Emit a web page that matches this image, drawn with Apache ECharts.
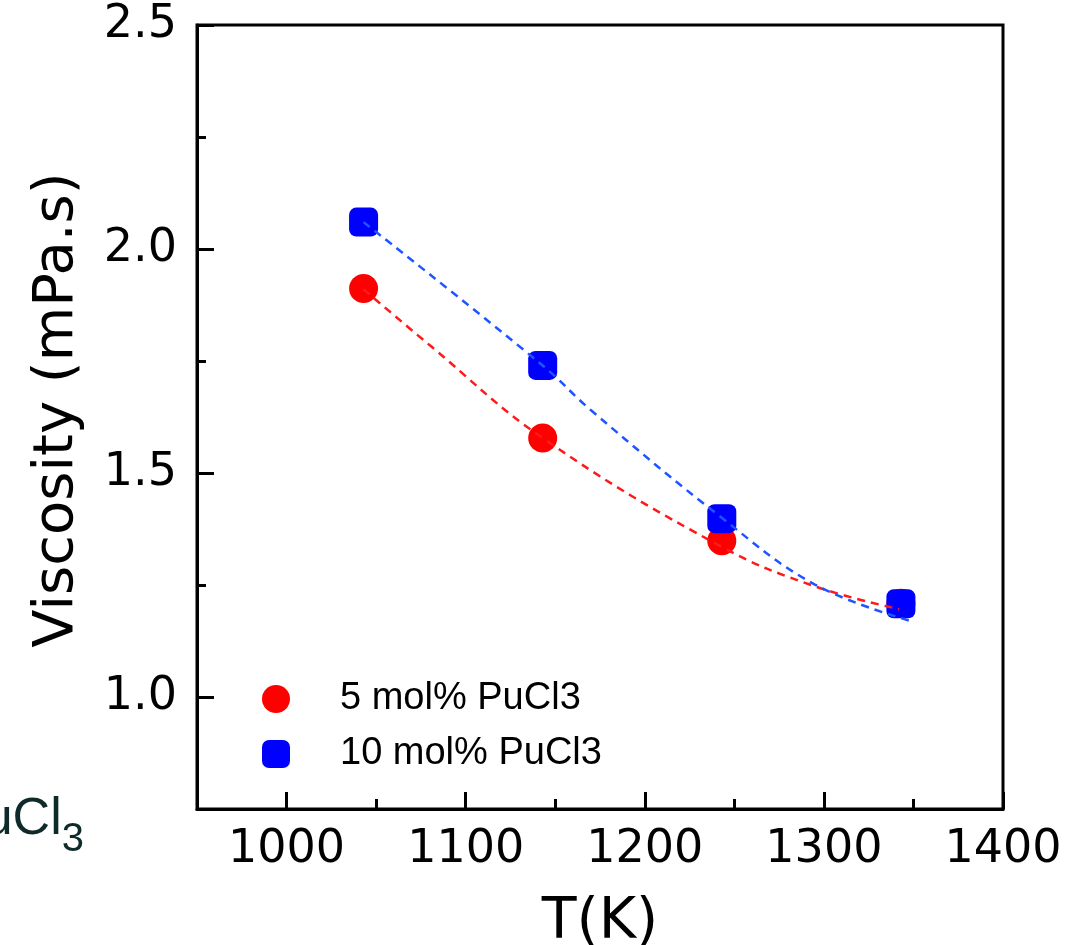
<!DOCTYPE html>
<html>
<head>
<meta charset="utf-8">
<script src="https://cdn.jsdelivr.net/npm/echarts@6/dist/echarts.min.js"></script>
<style>html,body{margin:0;padding:0;background:#fff;}#c{width:1068px;height:945px;}</style>
</head>
<body>
<div id="c"></div>
<script>
// Data
var temps = [1043, 1143, 1243, 1343];
var visc5 = [1.912, 1.578, 1.349, 1.209];
var visc10 = [2.060, 1.740, 1.398, 1.208];
// dashed fit curves
var fit5T = [1043, 1080, 1143, 1243, 1295, 1342];
var fit5V = [1.910, 1.785, 1.578, 1.335, 1.247, 1.196];
var fit10T = [1043, 1143, 1170, 1243, 1295, 1349];
var fit10V = [2.060, 1.740, 1.640, 1.400, 1.251, 1.169];
var xMajor = [1000, 1100, 1200, 1300, 1400];
var xMinor = [1050, 1150, 1250, 1350];
var yMajor = [1.0, 1.5, 2.0, 2.5];
var yMinor = [1.25, 1.75, 2.25];
var seriesNames = ['5 mol% PuCl3', '10 mol% PuCl3'];

function pairs(a, b) { return a.map(function (v, i) { return [v, b[i]]; }); }

var chart = echarts.init(document.getElementById('c'));
var axisFont = { fontFamily: 'DejaVu Sans', fontSize: 46, color: '#000' };
chart.setOption({
  animation: false,
  backgroundColor: '#fff',
  grid: { left: 197, right: 65, top: 25, bottom: 136, outerBoundsMode: 'none', containLabel: false, show: true, borderColor: '#000', borderWidth: 3, backgroundColor: 'transparent' },
  legend: {
    data: seriesNames,
    orient: 'vertical',
    left: 257, top: 675,
    itemWidth: 28, itemHeight: 28, itemGap: 17,
    textStyle: { fontFamily: 'Liberation Sans', fontSize: 38, color: '#000', padding: [0, 0, 0, 45] }
  },
  xAxis: [{
    type: 'value', min: 950, max: 1400, interval: 50,
    name: 'T(K)', nameLocation: 'middle', nameGap: 86,
    nameTextStyle: { fontFamily: 'DejaVu Sans', fontSize: 57, color: '#000' },
    axisLine: { show: true, lineStyle: { color: '#000', width: 3 } },
    axisTick: { show: true, inside: true, length: 17, customValues: xMajor, lineStyle: { color: '#000', width: 3 } },
    axisLabel: Object.assign({ margin: 18, customValues: xMajor, formatter: function (v) { return String(v); } }, axisFont),
    splitLine: { show: false }
  }, {
    type: 'value', min: 950, max: 1400, position: 'bottom',
    axisLine: { show: false },
    axisTick: { show: true, inside: true, length: 10, customValues: xMinor, lineStyle: { color: '#000', width: 3 } },
    axisLabel: { show: false },
    splitLine: { show: false }
  }],
  yAxis: [{
    type: 'value', min: 0.75, max: 2.5, interval: 0.25,
    name: 'Viscosity (mPa.s)', nameLocation: 'middle', nameGap: 112,
    nameTextStyle: { fontFamily: 'DejaVu Sans', fontSize: 56, color: '#000', padding: [0, 0, 0, 14] },
    axisLine: { show: true, lineStyle: { color: '#000', width: 3 } },
    axisTick: { show: true, inside: true, length: 17, customValues: yMajor, lineStyle: { color: '#000', width: 3 } },
    axisLabel: Object.assign({ margin: 20, customValues: yMajor, formatter: function (v) { return v.toFixed(1); } }, axisFont),
    splitLine: { show: false }
  }, {
    type: 'value', min: 0.75, max: 2.5, position: 'left',
    axisLine: { show: false },
    axisTick: { show: true, inside: true, length: 9, customValues: yMinor, lineStyle: { color: '#000', width: 3 } },
    axisLabel: { show: false },
    splitLine: { show: false }
  }],
  graphic: [{
    type: 'text', left: -51, top: 794, z: 10,
    style: {
      text: '{a|PuCl}{b|3}',
      rich: {
        a: { fontFamily: 'Liberation Sans', fontSize: 52, fill: '#0f2a2b', verticalAlign: 'bottom' },
        b: { fontFamily: 'Liberation Sans', fontSize: 40, fill: '#0f2a2b', verticalAlign: 'bottom', padding: [0, 0, -14, 0] }
      }
    }
  }],
  series: [
    { name: seriesNames[0], type: 'scatter', data: pairs(temps, visc5), symbol: 'circle', symbolSize: 29, itemStyle: { color: '#ff0000', opacity: 1 }, z: 2 },
    { name: seriesNames[1], type: 'scatter', data: pairs(temps, visc10), symbol: 'roundRect', symbolSize: 29, itemStyle: { color: '#0000ff', opacity: 1 }, z: 3 },
    { name: 'fit5', type: 'line', data: pairs(fit5T, fit5V), smooth: 0.4, showSymbol: false, symbol: 'none', lineStyle: { color: '#ff1a1a', width: 2.5, type: [8, 6] }, z: 4 },
    { name: 'fit10', type: 'line', data: pairs(fit10T, fit10V), smooth: 0.4, showSymbol: false, symbol: 'none', lineStyle: { color: '#1f55ff', width: 2.5, type: [8, 6] }, z: 5 }
  ]
});
</script>
</body>
</html>
